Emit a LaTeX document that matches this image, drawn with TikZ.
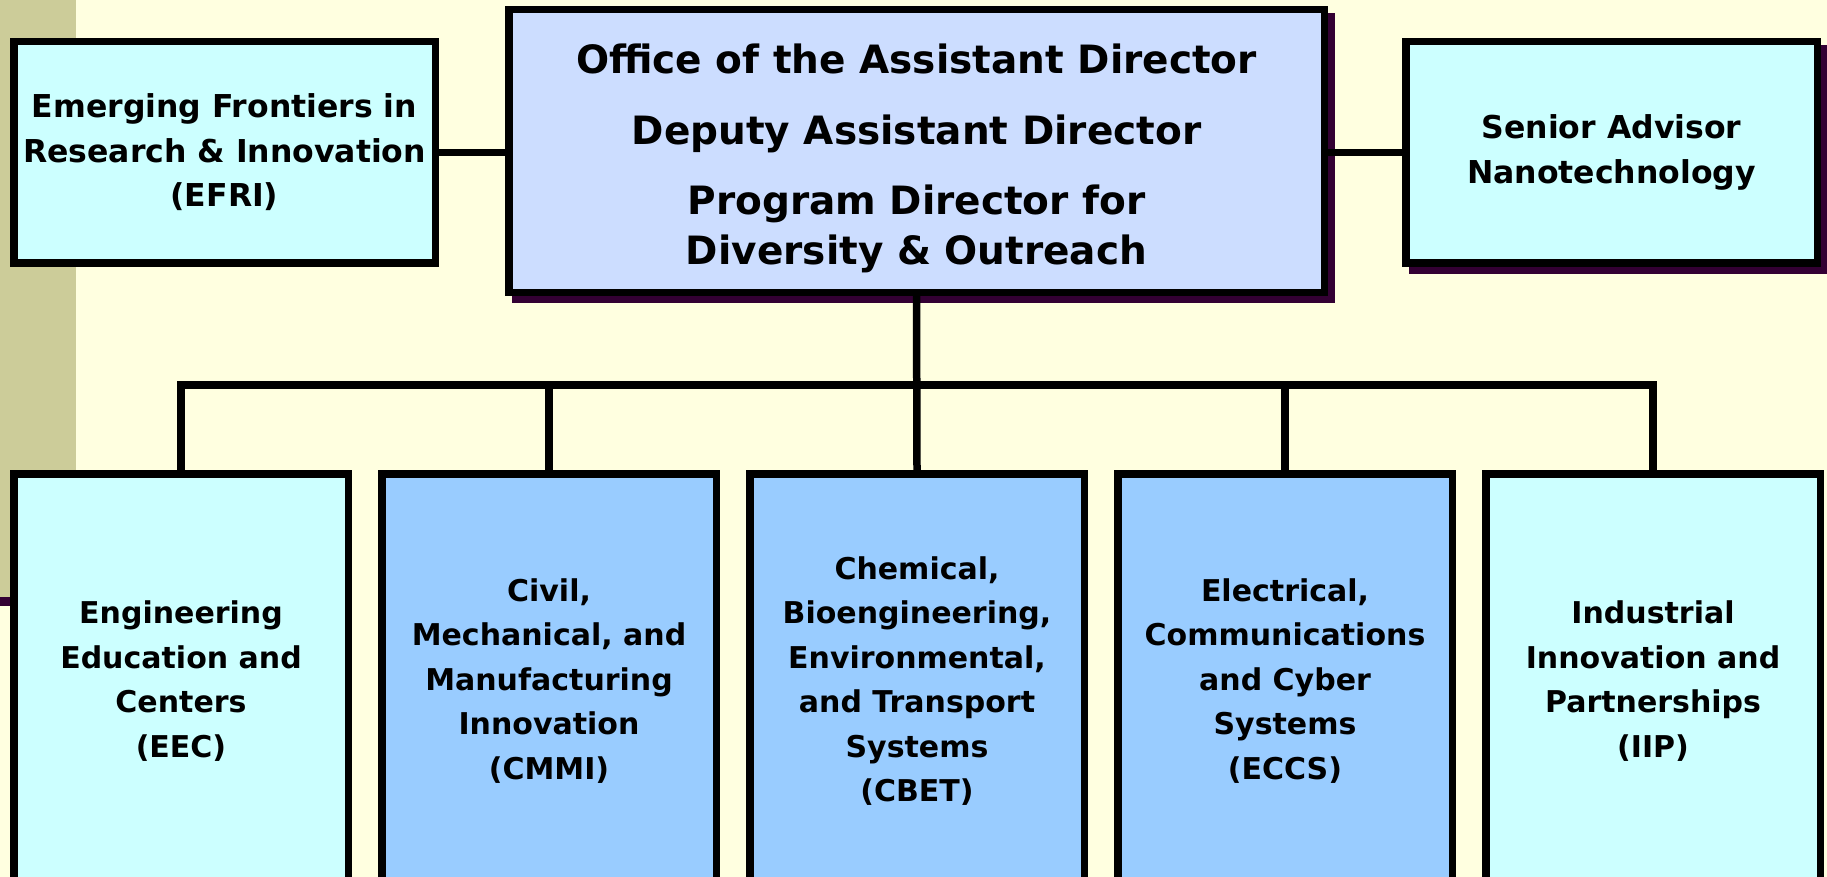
\documentclass[tikz,border=0pt]{standalone}
\usepackage{fontspec}
\setmainfont{DejaVu Sans}
\usetikzlibrary{backgrounds}
\definecolor{bgc}{HTML}{FFFFE0}
\definecolor{tanc}{HTML}{CCCC99}
\definecolor{shadowc}{HTML}{330033}
\definecolor{lcyan}{HTML}{CCFFFF}
\definecolor{lblue}{HTML}{99CCFF}
\definecolor{lav}{HTML}{CCDDFF}
\tikzset{
  box/.style={draw=black, line width=7.5pt, inner sep=0pt, align=center,
    font=\fontsize{30}{44.5}\selectfont\bfseries},
  sidebox/.style={box, minimum width=#1, minimum height=221.5pt,
    font=\fontsize{31.5}{44.5}\selectfont\bfseries},
  lowbox/.style={box, minimum width=334.5pt, minimum height=414.5pt},
  officetext/.style={align=center, inner sep=0pt, font=\fontsize{39}{50}\selectfont\bfseries},
  conn/.style={draw=black, line width=7.5pt},
  shade/.style={fill=shadowc},
}
\begin{document}
\begin{tikzpicture}[x=1pt,y=-1pt]
\useasboundingbox (0,0) rectangle (1827,877);
% top row
\node[sidebox=421.5pt, fill=lcyan] (efri) at (224.5,152.5)
  {Emerging Frontiers in\\Research \& Innovation\\(EFRI)};
\node[box, fill=lav, minimum width=815.5pt, minimum height=282.5pt] (office) at (916.5,151) {};
\node[officetext] (officet) at (916.5,158)
  {Office of the Assistant Director\\[21pt]Deputy Assistant Director\\[20pt]Program Director for\\Diversity \& Outreach};
\node[sidebox=411.5pt, fill=lcyan] (senior) at (1611.5,152.5)
  {Senior Advisor\\Nanotechnology};
% bottom row
\node[lowbox, fill=lcyan] (eec) at (181,681)
  {Engineering\\Education and\\Centers\\(EEC)};
\node[lowbox, fill=lblue] (cmmi) at (549,681)
  {Civil,\\Mechanical, and\\Manufacturing\\Innovation\\(CMMI)};
\node[lowbox, fill=lblue] (cbet) at (917,681)
  {Chemical,\\Bioengineering,\\Environmental,\\and Transport\\Systems\\(CBET)};
\node[lowbox, fill=lblue] (eccs) at (1285,681)
  {Electrical,\\Communications\\and Cyber\\Systems\\(ECCS)};
\node[lowbox, fill=lcyan] (iip) at (1653,681)
  {Industrial\\Innovation and\\Partnerships\\(IIP)};
% connectors
\coordinate (bus) at (917,385);
\draw[conn] (efri.east) -- (efri.east -| office.west);
\draw[conn] (office.east |- senior.west) -- (senior.west);
\draw[conn] (office.south) -- (cbet.north);
\draw[conn] (eec.north) -- (eec.north |- bus) -- (iip.north |- bus) -- (iip.north);
\draw[conn] (cmmi.north) -- (cmmi.north |- bus);
\draw[conn] (eccs.north) -- (eccs.north |- bus);
% background and shadows
\begin{scope}[on background layer]
  \fill[bgc] (0,0) rectangle (1827,877);
  \fill[tanc] (0,0) rectangle (76,597);
  \fill[shadowc] (0,597) rectangle (60,606);
  \fill[shade] ([shift={(7,7)}]office.south west) rectangle ([shift={(7,7)}]office.north east);
  \fill[shade] ([shift={(7,7)}]senior.south west) rectangle ([shift={(7,7)}]senior.north east);
\end{scope}
\end{tikzpicture}
\end{document}
